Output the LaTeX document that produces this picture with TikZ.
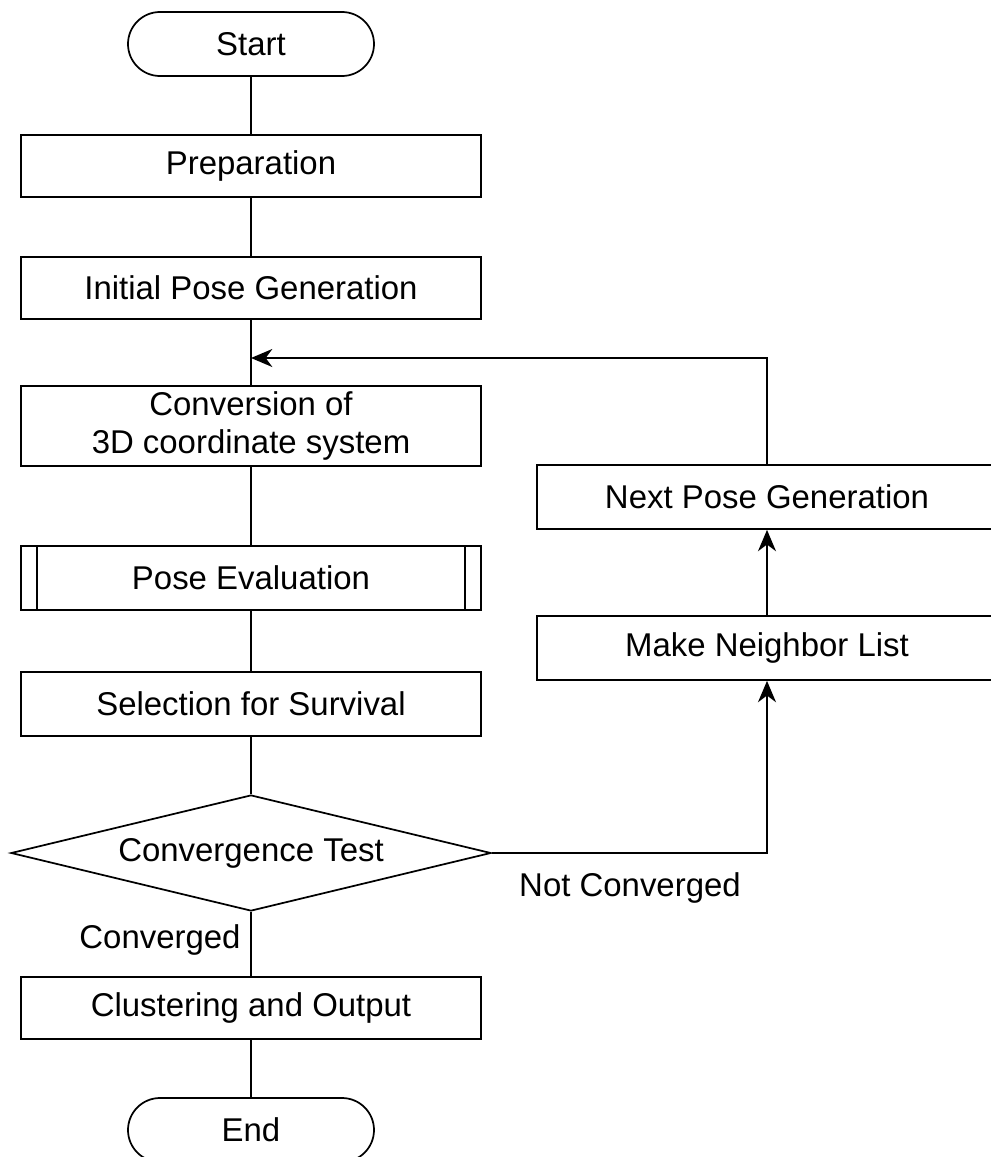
\documentclass[tikz,border=0pt]{standalone}
\usepackage{fontspec}
\setmainfont{Liberation Sans}
\usetikzlibrary{shapes.geometric,shapes.misc,arrows.meta,calc}
\begin{document}
\begin{tikzpicture}[x=0.75pt,y=-0.75pt,
  line width=1.3pt,
  every node/.style={font=\fontsize{24.7pt}{28.5pt}\selectfont, inner sep=0pt},
  procbox/.style={draw, rectangle, minimum width=345pt, minimum height=47pt, align=center},
  termbox/.style={draw, rounded rectangle, minimum width=184.5pt, minimum height=48pt},
  decbox/.style={draw, diamond, aspect=4.14, minimum width=360pt, minimum height=87pt},
  arr/.style={-{Stealth[length=16pt,width=13.5pt,inset=5pt]}}
]
\useasboundingbox (0,0) rectangle (990,1157);

\node[termbox] (start) at (251,44) {Start};
\node[procbox] (prep) at (251,166) {Preparation};
\node[procbox] (init) at (251,288) {Initial Pose Generation};
\coordinate (merge) at (251,358);
\node[procbox, minimum height=60pt] (conv) at (251,426) {Conversion of\\3D coordinate system};
\node[procbox, minimum height=48pt] (pe) at (251,578) {Pose Evaluation};
\draw ([xshift=12.75pt]pe.north west) -- ([xshift=12.75pt]pe.south west);
\draw ([xshift=-12.75pt]pe.north east) -- ([xshift=-12.75pt]pe.south east);
\node[procbox, minimum height=48pt] (sel) at (251,704) {Selection for Survival};
\node[decbox] (dia) at (251,853) {Convergence Test};
\node[procbox] (clust) at (251,1008) {Clustering and Output};
\node[termbox] (end) at (251,1130) {End};

\node[procbox, minimum height=48pt] (next) at (767,497) {Next Pose Generation};
\node[procbox, minimum height=48pt] (make) at (767,648) {Make Neighbor List};

\node (nc) at (630,888) {Not Converged};
\node (cv) at (160,940) {Converged};

\draw (start) -- (prep);
\draw (prep) -- (init);
\draw (init) -- (conv);
\draw (conv) -- (pe);
\draw (pe) -- (sel);
\draw (sel) -- (dia);
\draw (dia) -- (clust);
\draw (clust) -- (end);
\draw[arr] (dia.east) -| (make.south);
\draw[arr] (make) -- (next);
\draw[arr] (next.north) |- (merge);
\end{tikzpicture}
\end{document}
